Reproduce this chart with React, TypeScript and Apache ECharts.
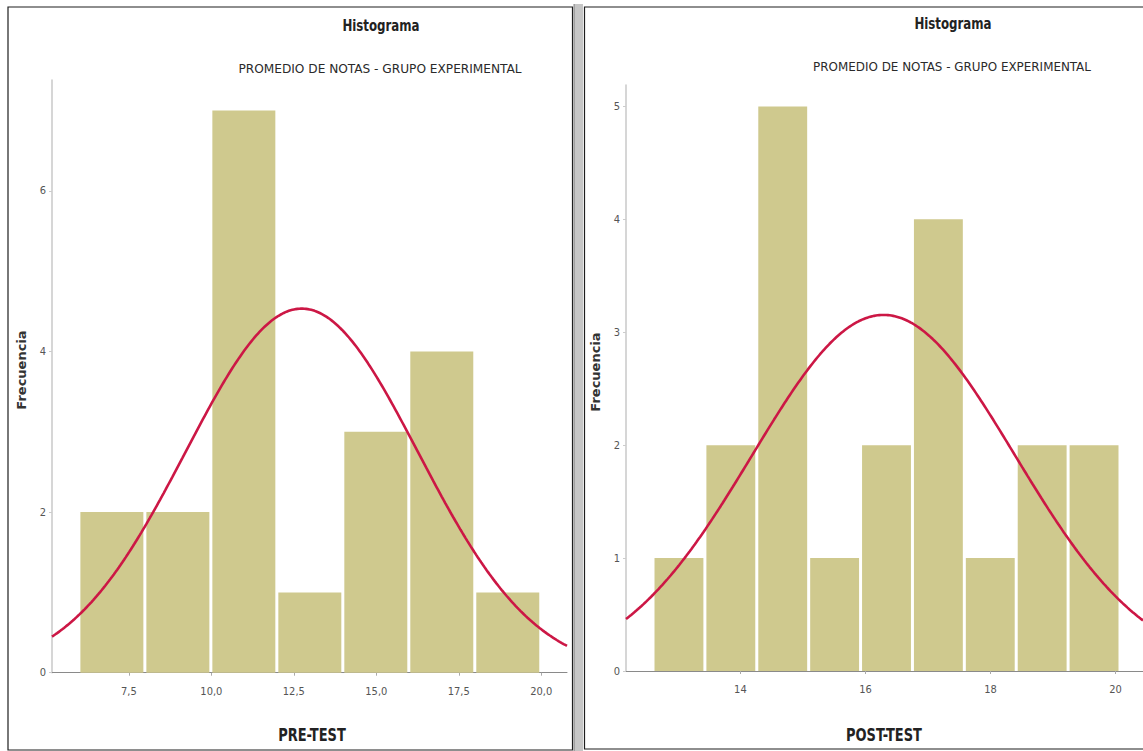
import React, { useEffect, useRef } from "react";
import * as echarts from "echarts";

// ---- data ----
const preBinStarts = [6, 8, 10, 12, 14, 16, 18];
const preBinWidth = 2;
const preCounts = [2, 2, 7, 1, 3, 4, 1];
const preCurveMean = 12.74;
const preCurveSd = 3.52;
const preXTicks = [7.5, 10, 12.5, 15, 17.5, 20];
const preYTicks = [0, 2, 4, 6];

const postBinStarts = [12.61, 13.44, 14.27, 15.1, 15.93, 16.76, 17.59, 18.42, 19.25];
const postBinWidth = 0.83;
const postCounts = [1, 2, 5, 1, 2, 4, 1, 2, 2];
const postCurveMean = 16.29;
const postCurveSd = 2.1;
const postXTicks = [14, 16, 18, 20];
const postYTicks = [0, 1, 2, 3, 4, 5];

const titleText = "Histograma";
const subtitleText = "PROMEDIO DE NOTAS - GRUPO EXPERIMENTAL";
const yName = "Frecuencia";
const preName = "PRE-TEST";
const postName = "POST-TEST";

const NARROW = "'Liberation Sans Narrow', 'DejaVu Sans Condensed', 'Roboto Condensed', sans-serif";
const BAR = "#cfc98e";
const CURVE = "#cc1745";

function curve(mean: number, sd: number, n: number, w: number, lo: number, hi: number) {
  const pts: number[][] = [];
  const steps = 300;
  for (let i = 0; i <= steps; i++) {
    const x = lo + ((hi - lo) * i) / steps;
    const z = (x - mean) / sd;
    pts.push([x, (n * w * Math.exp(-0.5 * z * z)) / (sd * Math.sqrt(2 * Math.PI))]);
  }
  return pts;
}

function binData(starts: number[], width: number, counts: number[]) {
  return starts.map((s, i) => [s, s + width, counts[i]]);
}

const renderBar = (params: any, api: any) => {
  const s = api.value(0);
  const e = api.value(1);
  const c = api.value(2);
  const p0 = api.coord([s, c]);
  const p1 = api.coord([e, 0]);
  return {
    type: "rect",
    shape: { x: p0[0] + 1, y: p0[1], width: p1[0] - p0[0] - 3, height: p1[1] - p0[1] },
    style: { fill: BAR },
  };
};

export default function App() {
  const ref = useRef<HTMLDivElement>(null);
  useEffect(() => {
    if (!ref.current) return;
    const chart = echarts.init(ref.current, undefined, { renderer: "svg" });
    const preMin = 5.17, preMax = 20.78;
    const postMin = 12.17, postMax = 20.44;
    const preN = preCounts.reduce((a, b) => a + b, 0);
    const postN = postCounts.reduce((a, b) => a + b, 0);

    const xAxisBase = (min: number, max: number, ticks: number[], fmt: (v: number) => string, gi: number) => ({
      type: "value",
      gridIndex: gi,
      min,
      max,
      splitLine: { show: false },
      axisLine: { show: true, lineStyle: { color: "#8a8a8a", width: 1 } },
      axisTick: { show: true, length: 3, lineStyle: { color: "#aaa" }, customValues: ticks },
      axisLabel: {
        customValues: ticks,
        formatter: fmt,
        color: "#555",
        fontSize: 11,
        fontFamily: NARROW,
        margin: 13,
      },
    });
    const yAxisBase = (max: number, ticks: number[], gi: number) => ({
      type: "value",
      gridIndex: gi,
      min: 0,
      max,
      splitLine: { show: false },
      axisLine: { show: true, lineStyle: { color: "#c8c8c8", width: 1.5 } },
      axisTick: { show: true, length: 3, lineStyle: { color: "#ccc" }, customValues: ticks },
      axisLabel: {
        customValues: ticks,
        color: "#555",
        fontSize: 11,
        fontFamily: NARROW,
        margin: 6,
      },
    });

    const text = (
      x: number,
      y: number,
      t: string,
      size: number,
      bold: boolean,
      sx = 1,
      family = NARROW,
      rot = 0,
      color = "#222"
    ) => ({
      type: "text",
      x,
      y,
      rotation: rot,
      scaleX: sx,
      style: {
        text: t,
        fontSize: size,
        fontWeight: bold ? "bold" : "normal",
        fontFamily: family,
        fill: color,
        textAlign: "center",
        textVerticalAlign: "middle",
      },
      z: 10,
    });

    chart.setOption({
      animation: false,
      backgroundColor: "#ffffff",
      grid: [
        { left: 52, top: 80, width: 515, height: 592.7 },
        { left: 626, top: 85, width: 517, height: 586 },
      ],
      xAxis: [
        xAxisBase(preMin, preMax, preXTicks, (v: number) => v.toFixed(1).replace(".", ","), 0),
        xAxisBase(postMin, postMax, postXTicks, (v: number) => String(Math.round(v)), 1),
      ],
      yAxis: [yAxisBase(7.38, preYTicks, 0), yAxisBase(5.19, postYTicks, 1)],
      series: [
        {
          type: "custom",
          xAxisIndex: 0,
          yAxisIndex: 0,
          renderItem: renderBar,
          encode: { x: [0, 1], y: 2 },
          data: binData(preBinStarts, preBinWidth, preCounts),
          z: 1,
        },
        {
          type: "line",
          xAxisIndex: 0,
          yAxisIndex: 0,
          showSymbol: false,
          symbol: "none",
          lineStyle: { color: CURVE, width: 2.6 },
          data: curve(preCurveMean, preCurveSd, preN, preBinWidth, preMin, preMax),
          z: 3,
        },
        {
          type: "custom",
          xAxisIndex: 1,
          yAxisIndex: 1,
          renderItem: renderBar,
          encode: { x: [0, 1], y: 2 },
          data: binData(postBinStarts, postBinWidth, postCounts),
          z: 1,
        },
        {
          type: "line",
          xAxisIndex: 1,
          yAxisIndex: 1,
          showSymbol: false,
          symbol: "none",
          lineStyle: { color: CURVE, width: 2.6 },
          data: curve(postCurveMean, postCurveSd, postN, postBinWidth, postMin, postMax),
          z: 3,
        },
      ],
      graphic: [
        { type: "rect", shape: { x: 573, y: 4, width: 10, height: 747 }, style: { fill: "#c6c6c6" }, z: 5 },
        { type: "line", shape: { x1: 574.5, y1: 4, x2: 574.5, y2: 751 }, style: { stroke: "#a0a0a0", lineWidth: 1 }, z: 5 },
        { type: "rect", shape: { x: 8, y: 7, width: 564.5, height: 743 }, style: { fill: "none", stroke: "#1e1e1e", lineWidth: 1.2 }, z: 6 },
        { type: "rect", shape: { x: 584.5, y: 7, width: 600, height: 742 }, style: { fill: "none", stroke: "#1e1e1e", lineWidth: 1.2 }, z: 6 },
        text(381, 25, titleText, 16, true, 0.82),
        text(380, 69, subtitleText, 13, false, 1.04, NARROW, 0, "#2a2a2a"),
        text(953, 23, titleText, 16, true, 0.82),
        text(952, 67, subtitleText, 13, false, 1.02, NARROW, 0, "#2a2a2a"),
        text(21, 370, yName, 13, true, 1, "'DejaVu Sans', Verdana, sans-serif", Math.PI / 2, "#333"),
        text(595, 372, yName, 13, true, 1, "'DejaVu Sans', Verdana, sans-serif", Math.PI / 2, "#333"),
        text(312, 735, preName, 17, true, 0.85),
        text(884, 735, postName, 17, true, 0.85),
      ],
    });
    return () => chart.dispose();
  }, []);
  return <div ref={ref} style={{ position: "absolute", left: 0, top: 0, width: 1143, height: 751 }} />;
}
